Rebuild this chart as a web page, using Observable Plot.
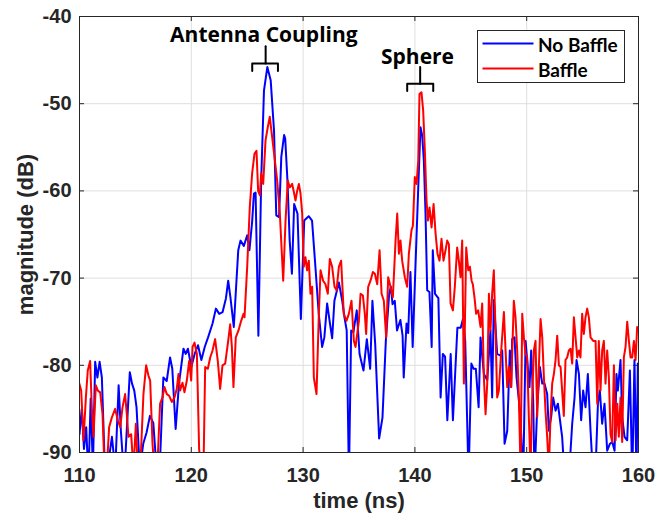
<!DOCTYPE html>
<html><head><meta charset="utf-8">
<script src="https://cdn.jsdelivr.net/npm/d3@7"></script>
<script src="https://cdn.jsdelivr.net/npm/@observablehq/plot@0.6"></script>
<style>
body{margin:0;background:#fff;}
#wrap{position:relative;width:657px;height:520px;}
#legend{position:absolute;left:477px;top:30px;}
</style></head><body><div id="wrap"></div>
<script>
// ---- data ----
const xTicks = [110, 120, 130, 140, 150, 160];
const yTicks = [-90, -80, -70, -60, -50, -40];
const seriesNames = ["No Baffle", "Baffle"];
const seriesColors = ["#0000ff", "#ff0000"];

const blueT = [110.0,110.2,110.4,110.6,110.8,111.0,111.2,111.4,111.6,111.8,112.0,112.3,112.6,112.9,113.2,113.5,113.7,114.0,114.5,114.7,114.9,115.1,115.4,115.7,116.0,116.3,116.6,116.9,117.2,117.5,117.8,118.1,118.3,118.6,118.9,119.3,119.5,119.7,120.0,120.3,120.6,120.9,121.2,121.5,121.9,122.2,122.5,122.8,123.1,123.3,123.5,123.8,124.2,124.4,124.7,125.0,125.2,125.45,125.6,125.75,126.0,126.25,126.5,126.8,127.1,127.4,127.6,127.85,128.05,128.3,128.4,128.6,128.8,129.0,129.2,129.5,129.8,130.1,130.5,130.8,131.1,131.4,131.7,131.9,132.15,132.4,132.6,132.8,133.2,133.5,133.7,133.9,134.1,134.3,134.5,134.8,135.05,135.4,135.7,136.0,136.2,136.45,136.8,137.1,137.4,137.7,137.85,138.0,138.2,138.4,138.7,138.9,139.0,139.25,139.4,139.6,139.8,140.05,140.3,140.5,140.65,140.8,140.95,141.1,141.3,141.5,141.6,141.8,142.1,142.3,142.5,142.7,142.9,143.2,143.4,143.6,143.8,144.1,144.3,144.5,144.8,145.05,145.25,145.45,145.7,145.87,146.17,146.47,146.76,146.91,147.06,147.36,147.66,147.81,148.02,148.26,148.49,148.61,148.7,148.91,149.09,149.3,149.45,149.69,149.9,150.04,150.25,150.4,150.58,150.7,150.94,151.18,151.39,151.59,151.83,151.98,152.19,152.37,152.58,152.79,152.94,153.17,153.4,153.77,154.07,154.28,154.46,154.67,154.87,155.05,155.26,155.47,155.71,155.95,156.16,156.37,156.54,156.75,156.96,157.2,157.44,157.65,157.86,158.03,158.15,158.39,158.54,158.75,158.99,159.23,159.44,159.64,159.82,159.94,160.0];
const blueV = [-87.9,-85.0,-89.6,-87.1,-93,-83.8,-92,-79.6,-81.4,-79.6,-81.4,-93,-91,-88.2,-92,-82.3,-87.5,-93,-80.8,-82.1,-82.9,-84.8,-92,-89,-87.7,-85.8,-86.6,-92,-91,-81.4,-81.8,-79.1,-80.4,-87.3,-82.1,-78.1,-78.7,-78.1,-80.2,-78.7,-77.7,-79.4,-77.9,-76.8,-75.2,-73.5,-74.1,-73.9,-72.3,-70.3,-72.2,-75.6,-66.8,-65.7,-66.3,-65.1,-66.8,-63.4,-60.3,-60.2,-76.6,-58.8,-48.5,-45.8,-47.3,-53.1,-62.8,-63.0,-56.1,-53.6,-54.0,-58.8,-65.7,-69.5,-61.5,-62.6,-74.7,-63.4,-62.9,-63.4,-68.7,-74.1,-77.9,-76.8,-72.9,-75.2,-76.9,-72.6,-70.5,-72.6,-74.5,-76.0,-93,-76.0,-76.2,-73.7,-78.7,-80.6,-77.0,-80.4,-72.6,-77.6,-88.4,-86.0,-77.2,-71.8,-71.0,-73.0,-72.6,-76.0,-74.8,-76.6,-81.4,-75.2,-76.3,-69.3,-77.9,-68.7,-59.6,-52.7,-53.6,-56.5,-62.6,-71.4,-71.6,-77.9,-66.8,-71.8,-72.3,-83.7,-78.7,-79.0,-86.3,-78.7,-86.3,-81.0,-75.7,-75.7,-74.7,-77.2,-93,-79.8,-80.4,-80.4,-84.8,-76.8,-81.0,-81.7,-76.0,-83.7,-72.5,-78.7,-78.9,-78.3,-89.0,-87.5,-78.3,-82.5,-77.0,-76.8,-81.4,-84.0,-86.3,-93,-77.2,-79.4,-82.5,-78.3,-84.0,-93,-84.8,-80.2,-82.1,-82.1,-83.3,-87.5,-85.9,-83.7,-85.2,-84.4,-85.9,-88.2,-93,-93,-86.7,-83.7,-79.4,-81.0,-86.3,-82.9,-84.8,-81.0,-87.5,-93,-92,-84.4,-82.9,-86.7,-84.4,-89.8,-89.0,-88.8,-89.8,-81.0,-82.9,-79.4,-85.9,-88.2,-88.6,-80.6,-93,-79.4,-93,-79.8,-86];

const redT = [109.91,110.15,110.36,110.57,110.74,110.95,111.1,111.25,111.46,111.64,111.85,112.06,112.24,112.44,112.65,112.89,113.19,113.43,113.64,113.85,114.08,114.23,114.38,114.62,114.83,115.04,115.22,115.43,115.72,115.96,116.17,116.32,116.53,116.71,116.95,117.21,117.42,117.6,117.81,118.02,118.26,118.5,118.7,118.85,119.0,119.21,119.39,119.6,119.81,119.99,120.11,120.29,120.5,120.7,120.88,121.09,121.24,121.48,121.69,121.9,122.13,122.37,122.58,122.79,123.03,123.27,123.48,123.63,123.77,123.98,124.22,124.46,124.67,124.76,125.0,125.23,125.44,125.65,125.83,125.98,126.13,126.25,126.43,126.64,126.84,127.02,127.23,127.44,127.68,127.92,128.22,128.43,128.63,128.81,129.02,129.17,129.32,129.47,129.62,129.77,129.92,130.06,130.21,130.36,130.51,130.66,130.81,130.96,131.2,131.41,131.56,131.79,132.0,132.21,132.39,132.6,132.81,132.99,133.2,133.4,133.64,133.88,134.09,134.33,134.54,134.69,134.99,135.14,135.35,135.52,135.64,135.82,136.03,136.24,136.42,136.63,136.84,137.02,137.22,137.43,137.61,137.82,138.03,138.27,138.42,138.57,138.71,138.86,139.1,139.31,139.46,139.7,139.82,139.99,140.15,140.3,140.41,140.59,140.74,140.89,141.04,141.16,141.31,141.49,141.67,141.85,142.02,142.2,142.38,142.56,142.74,142.89,143.04,143.19,143.4,143.57,143.78,143.93,144.08,144.23,144.38,144.59,144.77,144.92,145.07,145.18,145.33,145.48,145.66,145.87,146.02,146.17,146.32,146.47,146.62,146.76,146.91,147.06,147.21,147.36,147.51,147.72,147.96,148.11,148.26,148.41,148.61,148.85,149.0,149.15,149.3,149.45,149.6,149.75,149.9,150.04,150.19,150.34,150.49,150.64,150.79,150.94,151.09,151.24,151.39,151.54,151.68,151.83,151.98,152.13,152.28,152.43,152.58,152.73,152.88,153.03,153.17,153.32,153.47,153.62,153.77,153.92,154.07,154.22,154.37,154.52,154.67,154.81,154.96,155.11,155.26,155.41,155.56,155.71,155.95,156.16,156.31,156.45,156.6,156.75,156.9,157.05,157.2,157.35,157.5,157.65,157.8,157.95,158.1,158.24,158.39,158.54,158.69,158.84,158.99,159.14,159.29,159.44,159.59,159.74,159.88,160.0];
const redV = [-81.75,-82.9,-88.6,-83.7,-80.6,-79.5,-84.8,-88.2,-82.3,-82.9,-83.1,-85.6,-92,-92,-87.1,-86.0,-85.0,-86.3,-87.1,-84.8,-83.3,-85.6,-88.2,-87.9,-92,-86.7,-92,-92,-83.3,-80.0,-81.2,-81.75,-89.0,-92,-92,-84.4,-83.7,-82.5,-83.3,-83.5,-84.2,-83.7,-82.7,-81.0,-82.9,-82.0,-83.1,-81.75,-79.5,-81.75,-77.9,-77.4,-78.7,-89.6,-92,-92,-80.2,-80.4,-79.1,-78.3,-77.0,-79.5,-82.7,-80.0,-79.8,-77.5,-75.3,-77.9,-82.5,-76.8,-76.0,-74.9,-74.1,-74.5,-68.7,-61.9,-58.0,-55.75,-55.4,-60.0,-60.5,-58.0,-59.2,-54.2,-52.7,-51.5,-53.8,-56.1,-58.8,-62.6,-70.3,-63.4,-58.8,-59.6,-59.2,-60.1,-61.1,-60.0,-59.2,-60.3,-62.6,-68.7,-67.6,-69.1,-68.0,-71.8,-71.0,-81.4,-83.3,-74.1,-69.1,-70.3,-70.7,-71.8,-67.8,-68.7,-71.0,-71.4,-68.7,-68.0,-74.1,-74.9,-74.1,-72.6,-77.2,-77.9,-74.9,-71.8,-72.0,-74.1,-76.4,-71.0,-70.3,-69.3,-69.5,-70.7,-66.8,-71.8,-72.6,-76.8,-69.9,-71.0,-72.2,-65.7,-62.6,-67.2,-65.7,-68.0,-69.9,-71.0,-67.2,-64.5,-64.0,-58.4,-59.2,-56.5,-48.9,-48.7,-50.8,-55.4,-61.1,-63.4,-61.9,-64.2,-61.5,-64.9,-67.2,-68.0,-65.5,-68.0,-66.8,-65.7,-66.1,-72.9,-73.7,-71.0,-66.5,-68.0,-69.9,-65.7,-82.1,-66.5,-69.1,-68.7,-70.3,-70.7,-72.2,-74.1,-73.7,-75.6,-72.9,-81.4,-85.6,-82.1,-71.8,-76.0,-71.8,-69.1,-76.0,-83.7,-82.9,-78.3,-73.9,-78.3,-82.5,-80.2,-82.5,-72.6,-74.5,-78.3,-83.7,-92,-74.1,-76.8,-78.7,-79.1,-85.9,-92,-83.7,-78.3,-77.2,-85.9,-80.2,-74.7,-76.8,-81.4,-85.2,-88.2,-92,-85.9,-82.1,-81.0,-79.4,-76.6,-80.0,-80.2,-82.9,-85.8,-79.4,-79.1,-78.3,-78.1,-79.8,-74.5,-76.8,-79.1,-78.3,-79.1,-74.1,-76.4,-74.5,-73.5,-74.5,-76.8,-77.2,-77.2,-84.4,-77.2,-82.9,-78.3,-77.2,-82.1,-78.3,-81.4,-87.9,-88.8,-80.0,-88.6,-84.4,-88.2,-83.7,-88.8,-79.1,-77.9,-75.0,-77.2,-79.1,-79.1,-77.2,-79.4,-75.6,-76.0];

// annotations (labels and brackets, data coordinates)
const annoText = ["Antenna Coupling", "Sphere"];
const annoT = [126.49, 140.23];
const annoV = [-42.16, -44.67];
const bracketLeft = [125.45, 139.31];
const bracketRight = [127.75, 141.64];
const bracketStem = [126.65, 140.47];
const bracketBar = [-45.4, -47.7];
const bracketFoot = [-46.25, -48.55];
const bracketTop = [-43.4, -45.8];

// ---- build tables ----
const blue = blueT.map((t, i) => ({t, v: blueV[i]}));
const red = redT.map((t, i) => ({t, v: redV[i]}));
const brackets = [];
annoText.forEach((name, i) => {
  brackets.push({k: name + "a", t: bracketLeft[i], v: bracketFoot[i]});
  brackets.push({k: name + "a", t: bracketLeft[i], v: bracketBar[i]});
  brackets.push({k: name + "a", t: bracketRight[i], v: bracketBar[i]});
  brackets.push({k: name + "a", t: bracketRight[i], v: bracketFoot[i]});
  brackets.push({k: name + "b", t: bracketStem[i], v: bracketBar[i]});
  brackets.push({k: name + "b", t: bracketStem[i], v: bracketTop[i]});
});
const annos = annoText.map((text, i) => ({text, t: annoT[i], v: annoV[i]}));

const axisColor = "#262626";
const chart = Plot.plot({
  width: 657, height: 520,
  marginLeft: 79, marginRight: 19, marginTop: 16, marginBottom: 68,
  x: {domain: [110, 160]},
  y: {domain: [-90, -40]},
  style: {fontFamily: "'Liberation Sans', Arial, sans-serif", fontWeight: "bold", fontSize: "20px", color: axisColor, background: "#fff", overflow: "visible"},
  marks: [
    Plot.gridX(xTicks, {stroke: "#dedede", strokeOpacity: 1}),
    Plot.gridY(yTicks, {stroke: "#dedede", strokeOpacity: 1}),
    Plot.axisX(xTicks, {tickSize: 0, tickPadding: 15, label: null, fontSize: 20, fontWeight: "bold", tickFormat: d => String(d)}),
    Plot.axisY(yTicks, {tickSize: 0, tickPadding: 8, label: null, fontSize: 20, fontWeight: "bold", tickFormat: d => String(d)}),
    Plot.ruleY(yTicks, {x1: () => 110, x2: () => 110, insetRight: -5, stroke: axisColor}),
    Plot.ruleY(yTicks, {x1: () => 160, x2: () => 160, insetLeft: -5, stroke: axisColor}),
    Plot.ruleX(xTicks, {y1: () => -90, y2: () => -90, insetTop: -5, stroke: axisColor}),
    Plot.ruleX(xTicks, {y1: () => -40, y2: () => -40, insetBottom: -5, stroke: axisColor}),
    Plot.line(blue, {x: "t", y: "v", stroke: seriesColors[0], strokeWidth: 2, clip: true}),
    Plot.line(red, {x: "t", y: "v", stroke: seriesColors[1], strokeWidth: 2, clip: true}),
    Plot.frame({stroke: axisColor, strokeWidth: 1}),
    Plot.line(brackets, {x: "t", y: "v", z: "k", stroke: "#000", strokeWidth: 2}),
    Plot.text(annos, {x: "t", y: "v", text: "text", fontFamily: "'Open Sans', sans-serif", fontWeight: "bold", fontSize: 21, fill: "#000"}),
    Plot.text(["magnitude (dB)"], {frameAnchor: "left", textAnchor: "middle", lineAnchor: "middle", dx: -54, rotate: -90, fontSize: 22, fontWeight: "bold", fill: axisColor}),
    Plot.text(["time (ns)"], {frameAnchor: "bottom", textAnchor: "middle", lineAnchor: "middle", dy: 48, fontSize: 22, fontWeight: "bold", fill: axisColor})
  ]
});
const wrap = document.getElementById("wrap");
wrap.appendChild(chart);

// legend overlay
const ns = "http://www.w3.org/2000/svg";
const lg = document.createElementNS(ns, "svg");
lg.setAttribute("id", "legend");
lg.setAttribute("width", 148);
lg.setAttribute("height", 53);
const box = document.createElementNS(ns, "rect");
box.setAttribute("x", 0.5); box.setAttribute("y", 0.5);
box.setAttribute("width", 147); box.setAttribute("height", 52);
box.setAttribute("fill", "#fff"); box.setAttribute("stroke", axisColor);
lg.appendChild(box);
seriesNames.forEach((name, i) => {
  const y = 13.5 + i * 25;
  const ln = document.createElementNS(ns, "line");
  ln.setAttribute("x1", 5.5); ln.setAttribute("x2", 56.5);
  ln.setAttribute("y1", y); ln.setAttribute("y2", y);
  ln.setAttribute("stroke", seriesColors[i]); ln.setAttribute("stroke-width", 2);
  lg.appendChild(ln);
  const tx = document.createElementNS(ns, "text");
  tx.setAttribute("x", 61); tx.setAttribute("y", y + 8.8);
  tx.setAttribute("font-family", "Lato, sans-serif");
  tx.setAttribute("font-weight", "bold");
  tx.setAttribute("font-size", 19);
  tx.setAttribute("fill", "#000");
  tx.textContent = name;
  lg.appendChild(tx);
});
wrap.appendChild(lg);
</script></body></html>
